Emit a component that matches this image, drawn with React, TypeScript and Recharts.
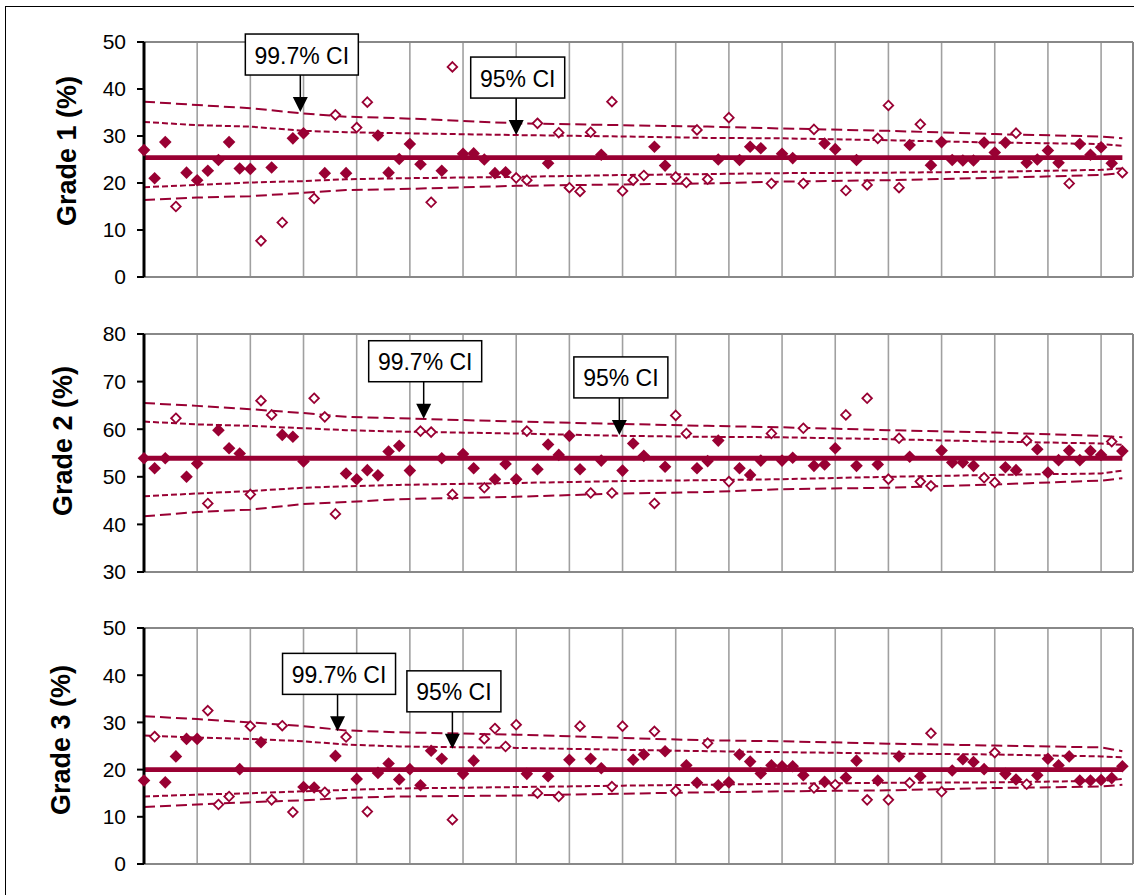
import React from 'react';
import { ComposedChart, Line, Scatter, XAxis, YAxis, CartesianGrid, ReferenceLine, ReferenceDot } from 'recharts';

const WINE = '#990033';
const FONT = '"Liberation Sans", Arial, sans-serif';

// positions along the x axis where the control limits were read
const limitX = [0, 5, 10, 15, 19, 24, 35, 45, 53, 60, 70, 80, 90, 92];
const gridX = [5, 10, 15, 20, 25, 30, 35, 40, 45, 50, 55, 60, 65, 70, 75, 80, 85, 90];

// Grade 1
const grade1Ticks = [0, 10, 20, 30, 40, 50];
const grade1Values = [
  27.0, 21.0, 28.7, 15.0, 22.2, 20.6, 22.6, 24.9, 28.7, 23.1, 23.0, 7.7, 23.3, 11.6, 29.5, 30.6,
  16.7, 22.1, 34.5, 22.1, 31.8, 37.2, 30.1, 22.2, 25.1, 28.3, 24.0, 15.9, 22.6, 44.7, 26.2, 26.3,
  25.0, 22.1, 22.3, 21.1, 20.6, 32.7, 24.2, 30.7, 19.0, 18.2, 30.8, 26.0, 37.3, 18.3, 20.6, 21.6,
  27.7, 23.7, 21.3, 20.1, 31.3, 20.8, 25.0, 33.9, 24.9, 27.7, 27.4, 19.9, 26.2, 25.3, 19.9, 31.4,
  28.4, 27.2, 18.4, 24.9, 19.6, 29.5, 36.5, 19.0, 28.1, 32.5, 23.8, 28.7, 24.9, 24.8, 24.8, 28.6,
  26.5, 28.6, 30.6, 24.3, 25.0, 26.9, 24.3, 19.9, 28.3, 26.0, 27.6, 24.2, 22.2,
];
// 1-based positions of the units outside the 95% limits (hollow markers)
const grade1Outside = [4, 12, 14, 17, 19, 21, 22, 28, 30, 36, 37, 38, 40, 41, 42, 43, 45, 46, 47, 48, 51, 52, 53, 54, 56, 60, 63, 64, 67, 69, 70, 71, 72, 74, 83, 88, 93];
const grade1Mean = 25.4;
const grade1Upper997 = [37.3, 36.6, 35.9, 34.8, 34.1, 33.8, 32.7, 32.3, 32.0, 31.6, 31.1, 30.4, 29.9, 29.5];
const grade1Upper95 = [33.0, 32.3, 32.0, 31.1, 30.8, 30.6, 30.2, 29.9, 29.6, 29.5, 29.1, 28.6, 28.3, 27.9];
const grade1Lower95 = [19.1, 19.6, 20.1, 20.4, 20.8, 21.0, 21.3, 21.7, 21.9, 22.1, 22.2, 22.4, 22.8, 23.1];
const grade1Lower997 = [16.4, 16.9, 17.2, 17.9, 18.5, 18.7, 19.4, 19.7, 19.9, 20.3, 20.6, 21.1, 21.7, 22.1];
const grade1Callouts = [
  { label: '99.7% CI', x: 14.7, y: 35.1, w: 113 },
  { label: '95% CI', x: 35.0, y: 30.2, w: 94 },
];

// Grade 2
const grade2Ticks = [30, 40, 50, 60, 70, 80];
const grade2Values = [
  53.9, 51.8, 53.9, 62.3, 50.0, 52.8, 44.4, 59.8, 56.0, 54.9, 46.3, 66.0, 63.0, 58.8, 58.4, 53.2,
  66.5, 62.6, 42.2, 50.7, 49.5, 51.4, 50.3, 55.3, 56.5, 51.3, 59.6, 59.4, 53.9, 46.3, 54.8, 51.8,
  47.7, 49.5, 52.7, 49.5, 59.6, 51.6, 56.8, 54.6, 58.6, 51.6, 46.6, 53.4, 46.6, 51.3, 57.0, 54.4,
  44.4, 52.1, 62.9, 59.1, 51.8, 53.3, 57.6, 49.0, 51.8, 50.4, 53.4, 59.1, 53.4, 54.0, 60.2, 52.3,
  52.6, 56.0, 63.0, 52.3, 66.5, 52.6, 49.5, 58.1, 54.2, 49.0, 48.1, 55.5, 53.0, 53.0, 52.3, 49.8,
  48.8, 52.0, 51.4, 57.6, 55.8, 50.9, 53.5, 55.5, 53.5, 55.4, 54.6, 57.4, 55.4,
];
const grade2Outside = [4, 7, 11, 12, 13, 17, 18, 19, 27, 28, 30, 33, 37, 43, 45, 49, 51, 52, 56, 60, 63, 67, 69, 71, 72, 74, 75, 80, 81, 84, 92];
const grade2Mean = 53.9;
const grade2Upper997 = [65.5, 64.9, 64.2, 63.4, 62.6, 62.3, 61.6, 61.1, 60.7, 60.4, 59.8, 59.3, 58.6, 58.3];
const grade2Upper95 = [61.6, 61.0, 60.7, 60.2, 59.8, 59.5, 59.1, 58.6, 58.4, 58.3, 57.9, 57.4, 57.0, 56.7];
const grade2Lower95 = [45.9, 46.5, 47.0, 47.7, 48.0, 48.3, 48.7, 49.1, 49.3, 49.5, 50.0, 50.4, 50.7, 51.3];
const grade2Lower997 = [41.7, 42.6, 43.1, 44.3, 44.7, 45.3, 45.8, 46.5, 46.8, 47.4, 47.7, 48.4, 49.2, 49.7];
const grade2Callouts = [
  { label: '99.7% CI', x: 26.3, y: 62.2, w: 113 },
  { label: '95% CI', x: 44.7, y: 58.8, w: 94 },
];

// Grade 3
const grade3Ticks = [0, 10, 20, 30, 40, 50];
const grade3Values = [
  17.7, 27.0, 17.3, 22.8, 26.5, 26.5, 32.5, 12.6, 14.3, 20.1, 29.2, 25.8, 13.6, 29.3, 11.0, 16.3,
  16.2, 15.2, 22.9, 26.9, 18.0, 11.1, 19.3, 21.3, 17.9, 20.1, 16.7, 24.0, 22.3, 9.4, 19.1, 21.9,
  26.5, 28.7, 24.9, 29.5, 19.1, 15.0, 18.6, 14.3, 22.1, 29.2, 22.3, 20.3, 16.4, 29.2, 22.1, 23.2,
  28.1, 23.9, 15.5, 20.9, 17.2, 25.6, 16.7, 17.3, 23.2, 21.7, 19.2, 20.9, 20.7, 20.7, 18.8, 16.1,
  17.4, 16.8, 18.3, 21.9, 13.6, 17.7, 13.6, 22.8, 17.2, 18.6, 27.7, 15.3, 19.8, 22.2, 21.6, 20.1,
  23.6, 19.1, 17.9, 16.9, 18.8, 22.3, 20.9, 22.8, 17.7, 17.7, 17.8, 18.2, 20.7,
];
const grade3Outside = [2, 7, 8, 9, 11, 13, 14, 15, 18, 20, 22, 30, 33, 34, 35, 36, 38, 40, 42, 45, 46, 49, 51, 54, 64, 66, 69, 71, 73, 75, 76, 81, 84];
const grade3Mean = 20.0;
const grade3Upper997 = [31.3, 30.7, 30.0, 29.2, 28.3, 27.9, 27.4, 26.7, 26.2, 26.0, 25.5, 25.1, 24.7, 23.9];
const grade3Upper95 = [27.2, 26.8, 26.5, 26.0, 25.3, 24.9, 24.6, 24.2, 23.9, 23.7, 23.4, 23.2, 22.8, 22.6];
const grade3Lower95 = [14.3, 14.7, 15.0, 15.4, 15.7, 16.0, 16.3, 16.6, 16.8, 17.0, 17.2, 17.3, 17.6, 18.0];
const grade3Lower997 = [12.1, 12.6, 13.1, 13.5, 14.0, 14.3, 14.5, 14.9, 15.2, 15.4, 15.6, 16.1, 16.4, 16.8];
const grade3Callouts = [
  { label: '99.7% CI', x: 18.2, y: 28.1, w: 113 },
  { label: '95% CI', x: 29.0, y: 24.4, w: 94 },
];

const buildPoints = (values: number[], outside: number[]) =>
  values.map((v, i) => ({ x: i, y: v, out: outside.includes(i + 1) }));

const buildLimits = (mean: number, u997: number[], u95: number[], l95: number[], l997: number[]) =>
  limitX.map((x, i) => ({ x, mean, u997: u997[i], u95: u95[i], l95: l95[i], l997: l997[i] }));

const Diamond = (props: any) => {
  const { cx, cy, payload } = props;
  if (cx == null || cy == null) return null;
  if (payload && payload.out) {
    const r = 4.8;
    return (
      <path d={`M${cx},${cy - r}L${cx + r},${cy}L${cx},${cy + r}L${cx - r},${cy}Z`} fill="#fff" stroke={WINE} strokeWidth={1.8} />
    );
  }
  const r = 6.3;
  return <path d={`M${cx},${cy - r}L${cx + r},${cy}L${cx},${cy + r}L${cx - r},${cy}Z`} fill={WINE} />;
};

const Callout = (props: any) => {
  const { cx, cy, text, boxWidth } = props;
  if (cx == null || cy == null) return null;
  const boxH = 41;
  const gap = 37;
  const bx = cx + 1.5 - boxWidth / 2;
  const by = cy - gap - boxH;
  return (
    <g>
      <line x1={cx} y1={cy - gap} x2={cx} y2={cy - 14} stroke="#000" strokeWidth={1.5} />
      <polygon points={`${cx - 7.5},${cy - 15} ${cx + 7.5},${cy - 15} ${cx},${cy}`} fill="#000" />
      <rect x={bx} y={by} width={boxWidth} height={boxH} fill="#fff" stroke="#000" strokeWidth={1.5} />
      <text x={bx + boxWidth / 2} y={by + boxH / 2 + 1} textAnchor="middle" dominantBaseline="central" fontSize={23} fontFamily={FONT} fill="#000">
        {text}
      </text>
    </g>
  );
};

type PanelProps = {
  top: number;
  height: number;
  marginTop: number;
  marginBottom: number;
  title: string;
  titleX: number;
  titleY: number;
  ticks: number[];
  points: { x: number; y: number; out: boolean }[];
  limits: any[];
  callouts: { label: string; x: number; y: number; w: number }[];
};

const Panel: React.FC<PanelProps> = ({ top, height, marginTop, marginBottom, title, titleX, titleY, ticks, points, limits, callouts }) => {
  const yMin = ticks[0];
  const yMax = ticks[ticks.length - 1];
  return (
    <>
      <div style={{ position: 'absolute', left: 0, top, width: 1134, height }}>
        <ComposedChart width={1134} height={height} margin={{ top: marginTop, right: 1, bottom: marginBottom, left: 84 }}>
          <CartesianGrid vertical horizontal={false} stroke="#a0a0a0" strokeWidth={1.6} />
          <XAxis type="number" dataKey="x" domain={[0, 93]} ticks={gridX} hide />
          <YAxis
            type="number"
            domain={[yMin, yMax]}
            ticks={ticks}
            interval={0}
            width={60}
            axisLine={{ stroke: '#000', strokeWidth: 3 }}
            tickLine={{ stroke: '#000', strokeWidth: 2 }}
            tickSize={7}
            tickMargin={11}
            tick={{ fill: '#000', fontSize: 21, fontFamily: FONT }}
          />
          <ReferenceLine y={yMax} stroke="#888" strokeWidth={2} />
          <ReferenceLine y={yMin} stroke="#888" strokeWidth={2} />
          <ReferenceLine x={93} stroke="#888" strokeWidth={2} />
          <Line data={limits} dataKey="u997" stroke={WINE} strokeWidth={2} strokeDasharray="11 5" dot={false} isAnimationActive={false} />
          <Line data={limits} dataKey="u95" stroke={WINE} strokeWidth={2} strokeDasharray="6 3" dot={false} isAnimationActive={false} />
          <Line data={limits} dataKey="l95" stroke={WINE} strokeWidth={2} strokeDasharray="6 3" dot={false} isAnimationActive={false} />
          <Line data={limits} dataKey="l997" stroke={WINE} strokeWidth={2} strokeDasharray="11 5" dot={false} isAnimationActive={false} />
          <Line data={limits} dataKey="mean" stroke={WINE} strokeWidth={4.8} dot={false} isAnimationActive={false} />
          <Scatter data={points} dataKey="y" shape={<Diamond />} isAnimationActive={false} />
          {callouts.map((c) => (
            <ReferenceDot
              key={c.label}
              x={c.x}
              y={c.y}
              r={0}
              ifOverflow="visible"
              shape={(p: any) => <Callout {...p} text={c.label} boxWidth={c.w} />}
            />
          ))}
        </ComposedChart>
      </div>
      <div
        style={{
          position: 'absolute',
          left: titleX,
          top: titleY,
          transform: 'translate(-50%, -50%) rotate(-90deg)',
          whiteSpace: 'nowrap',
          fontFamily: FONT,
          fontWeight: 'bold',
          fontSize: 27,
          color: '#000',
          lineHeight: 1,
        }}
      >
        {title}
      </div>
    </>
  );
};

export default function App() {
  return (
    <div style={{ position: 'absolute', left: 0, top: 0, width: 1134, height: 895, overflow: 'hidden', background: '#fff' }}>
      <div style={{ position: 'absolute', left: 5, top: 6, width: 1200, height: 1000, border: '1px solid #000' }} />
      <Panel
        top={0}
        height={300}
        marginTop={42}
        marginBottom={23}
        title="Grade 1 (%)"
        titleX={67}
        titleY={151}
        ticks={grade1Ticks}
        points={buildPoints(grade1Values, grade1Outside)}
        limits={buildLimits(grade1Mean, grade1Upper997, grade1Upper95, grade1Lower95, grade1Lower997)}
        callouts={grade1Callouts}
      />
      <Panel
        top={300}
        height={290}
        marginTop={34}
        marginBottom={18}
        title="Grade 2 (%)"
        titleX={63}
        titleY={441}
        ticks={grade2Ticks}
        points={buildPoints(grade2Values, grade2Outside)}
        limits={buildLimits(grade2Mean, grade2Upper997, grade2Upper95, grade2Lower95, grade2Lower997)}
        callouts={grade2Callouts}
      />
      <Panel
        top={600}
        height={285}
        marginTop={28}
        marginBottom={21}
        title="Grade 3 (%)"
        titleX={61}
        titleY={740}
        ticks={grade3Ticks}
        points={buildPoints(grade3Values, grade3Outside)}
        limits={buildLimits(grade3Mean, grade3Upper997, grade3Upper95, grade3Lower95, grade3Lower997)}
        callouts={grade3Callouts}
      />
    </div>
  );
}
